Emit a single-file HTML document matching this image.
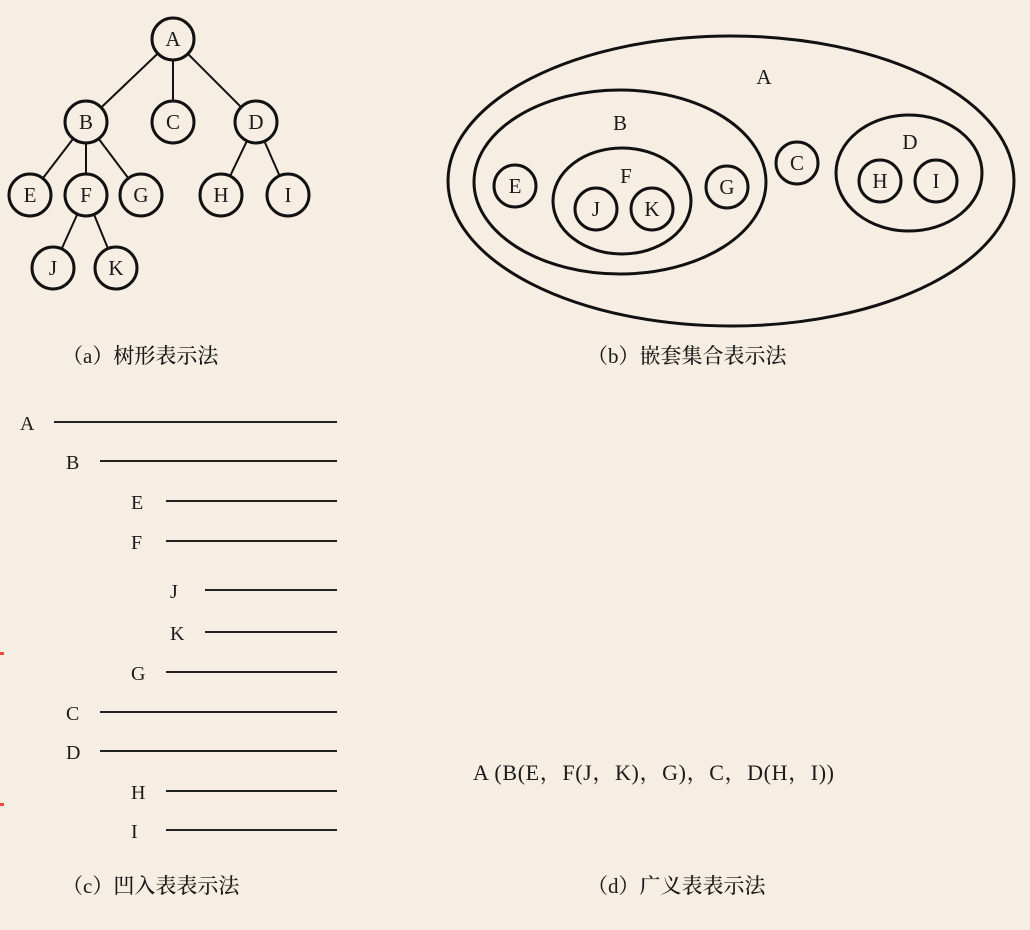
<!DOCTYPE html>
<html><head><meta charset="utf-8">
<style>
html,body{margin:0;padding:0;background:#f6eee2;}
svg{display:block;}
text{font-family:"Liberation Serif","Noto Serif CJK SC",serif;fill:#1a1a1a;}
.cap{font-family:"Liberation Serif","Noto Serif CJK SC",serif;font-size:21px;font-weight:500;}
</style></head>
<body>
<svg id="fig" width="1030" height="930" viewBox="0 0 1030 930" xmlns="http://www.w3.org/2000/svg">
<rect width="1030" height="930" fill="#f6eee2"/>
<rect x="0" y="652" width="4" height="3" fill="#f04a3a"/>
<rect x="0" y="803" width="4" height="3" fill="#f04a3a"/>
<g id="tree"></g>
<g id="nested"></g>
<g id="indent"></g>
<text x="473" y="780" font-size="22" textLength="361">A (B(E，F(J，K)，G)，C，D(H，I))</text>
<text class="cap" x="62" y="363">（a）树形表示法</text>
<text class="cap" x="587" y="363">（b）嵌套集合表示法</text>
<text class="cap" x="62" y="893">（c）凹入表表示法</text>
<text class="cap" x="587" y="893">（d）广义表表示法</text>
</svg>
<script>
const NS="http://www.w3.org/2000/svg";
const treeNodes=[["A",173,39],["B",86,122],["C",173,122],["D",256,122],["E",30,195],["F",86,195],["G",141,195],["H",221,195],["I",288,195],["J",53,268],["K",116,268]];
const treeEdges=[["A","B"],["A","C"],["A","D"],["B","E"],["B","F"],["B","G"],["D","H"],["D","I"],["F","J"],["F","K"]];
const nestedSets=[["A",731,181,283,145,764,84],["B",620,182,146,92,620,130],["F",622,201,69,53,626,183],["D",909,173,73,58,910,149]];
const nestedLeaves=[["E",515,186],["J",596,209],["K",652,209],["G",727,187],["C",797,163],["H",880,181],["I",936,181]];
const indentRows=[["A",0,422],["B",1,461],["E",2,501],["F",2,541],["J",3,590],["K",3,632],["G",2,672],["C",1,712],["D",1,751],["H",2,791],["I",2,830]];
const depthLabelX=[20,66,131,170];
const depthLineX=[54,100,166,205];
const lineEnd=337;

function mk(tag,attrs,parent){const e=document.createElementNS(NS,tag);for(const k in attrs)e.setAttribute(k,attrs[k]);parent.appendChild(e);return e;}
const tree=document.getElementById("tree");
const pos={};treeNodes.forEach(n=>pos[n[0]]=n);
const R=21;
treeEdges.forEach(([a,b])=>{
  const p=pos[a],q=pos[b];const dx=q[1]-p[1],dy=q[2]-p[2],d=Math.hypot(dx,dy);
  const l=mk("line",{x1:p[1]+dx/d*R,y1:p[2]+dy/d*R,x2:q[1]-dx/d*R,y2:q[2]-dy/d*R,stroke:"#111","stroke-width":2},tree);
  
  
});
treeNodes.forEach(([t,x,y])=>{
  const c=mk("circle",{cx:x,cy:y,r:R,fill:"none",stroke:"#111","stroke-width":3},tree);
  
  
  const tx=mk("text",{x:x,y:y+7,"font-size":21,"text-anchor":"middle"},tree);tx.textContent=t;
  
  
});
const nested=document.getElementById("nested");
nestedSets.forEach(([t,cx,cy,rx,ry,lx,ly])=>{
  const e=mk("ellipse",{cx:cx,cy:cy,rx:rx,ry:ry,fill:"none",stroke:"#111","stroke-width":3},nested);
  
  
  const tx=mk("text",{x:lx,y:ly,"font-size":21,"text-anchor":"middle"},nested);tx.textContent=t;
  
  
});
nestedLeaves.forEach(([t,x,y])=>{
  const c=mk("circle",{cx:x,cy:y,r:21,fill:"none",stroke:"#111","stroke-width":3},nested);
  
  
  const tx=mk("text",{x:x,y:y+7,"font-size":21,"text-anchor":"middle"},nested);tx.textContent=t;
  
  
});
const ind=document.getElementById("indent");
indentRows.forEach(([t,d,y])=>{
  const tx=mk("text",{x:depthLabelX[d],y:y+8,"font-size":20},ind);tx.textContent=t;
  
  
  const l=mk("line",{x1:depthLineX[d],y1:y,x2:lineEnd,y2:y,stroke:"#222","stroke-width":2},ind);
  
  
});
</script>
</body></html>
